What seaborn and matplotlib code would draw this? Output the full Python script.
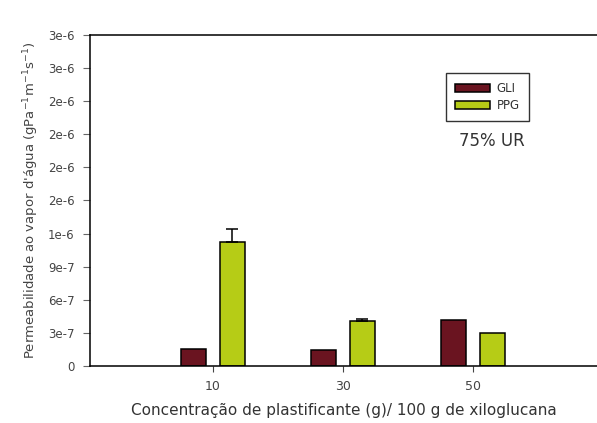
import numpy as np
import pandas as pd
import matplotlib
matplotlib.use("Agg")
import matplotlib.pyplot as plt
import seaborn as sns

# ---- data ----
concentrations = ["10", "30", "50"]
series = ["GLI", "PPG"]
gli_values = [1.54e-7, 1.43e-7, 4.16e-7]
ppg_values = [1.12e-6, 4.06e-7, 3.02e-7]
gli_errors = [0.0, 0.0, 0.0]
ppg_errors = [1.2e-7, 2.4e-8, 0.0]
ytick_values = [0, 3e-7, 6e-7, 9e-7, 1.2e-6, 1.5e-6, 1.8e-6, 2.1e-6, 2.4e-6, 2.7e-6, 3.0e-6]
ytick_labels = ["0", "3e-7", "6e-7", "9e-7", "1e-6", "2e-6", "2e-6", "2e-6", "2e-6", "3e-6", "3e-6"]

colors = {"GLI": "#6a1420", "PPG": "#b6cc16"}

df = pd.DataFrame({
    "conc": concentrations * 2,
    "serie": ["GLI"] * 3 + ["PPG"] * 3,
    "valor": gli_values + ppg_values,
    "erro": gli_errors + ppg_errors,
})

sns.set_theme(style="white")
plt.rcParams["font.family"] = ["DejaVu Sans"]

fig = plt.figure(figsize=(5.97, 4.23), dpi=100)
ax = fig.add_axes([0.1508, 0.1348, 0.8492, 0.7825])

sns.barplot(data=df, x="conc", y="valor", hue="serie", order=concentrations,
            hue_order=series, palette=colors, width=0.6, gap=0.38,
            errorbar=None, edgecolor="black", linewidth=1.1, saturation=1,
            ax=ax)

# error bars (upper only) from bar patches
for container, s in zip(ax.containers, series):
    errs = df[df["serie"] == s]["erro"].tolist()
    for patch, e in zip(container.patches, errs):
        if e > 0:
            xc = patch.get_x() + patch.get_width() / 2
            ax.errorbar(xc, patch.get_height(), yerr=[[0], [e]], fmt="none",
                        ecolor="black", elinewidth=1.1, capsize=4.5,
                        capthick=1.1, zorder=5)

ax.set_xlim(-0.946, 2.954)
ax.set_ylim(0, 3.0e-6)
ax.set_yticks(ytick_values)
ax.set_yticklabels(ytick_labels)

for side in ["left", "bottom", "top"]:
    ax.spines[side].set_visible(True)
    ax.spines[side].set_color("black")
    ax.spines[side].set_linewidth(1.1)
ax.spines["right"].set_visible(False)

ax.tick_params(axis="y", direction="out", length=5, width=0.8, color="#666666",
               labelsize=8.5, labelcolor="#444444", pad=6, left=True)
ax.tick_params(axis="x", direction="out", length=4, width=0.8, color="#444444",
               labelsize=9, labelcolor="#444444", pad=6, bottom=True)

ax.set_xlabel("Concentração de plastificante (g)/ 100 g de xiloglucana",
              fontsize=11, color="#333333", labelpad=7)
ax.set_ylabel("Permeabilidade ao vapor d'água (gPa$^{-1}$m$^{-1}$s$^{-1}$)",
              fontsize=9.5, color="#444444", labelpad=5)

leg = ax.legend(loc="upper left", bbox_to_anchor=(0.702, 0.885), frameon=True,
                fontsize=8.5, handlelength=2.9, handleheight=0.7,
                borderpad=0.8, labelspacing=0.3, handletextpad=0.6,
                borderaxespad=0, fancybox=False, title=None)
leg.get_frame().set_edgecolor("black")
leg.get_frame().set_linewidth(1.0)
for t in leg.get_texts():
    t.set_color("#333333")

ax.text(0.793, 0.68, "75% UR", transform=ax.transAxes, ha="center",
        va="center", fontsize=12, color="#333333")

fig.savefig("out.png", dpi=100, facecolor="white")
